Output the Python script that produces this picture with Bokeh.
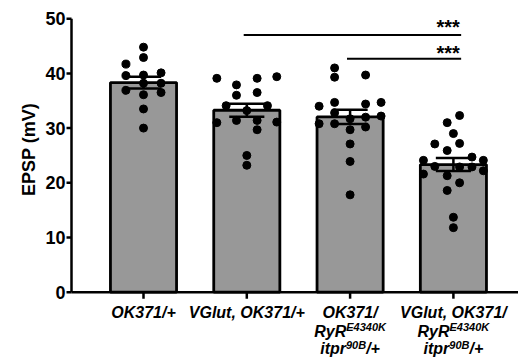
import math
import numpy as np
from bokeh.plotting import figure
from bokeh.models import Range1d
from bokeh.core.properties import value
from bokeh.embed import file_html
from bokeh.resources import INLINE

# ---- data ----
groups = ["OK371/+", "VGlut, OK371/+", "OK371/RyR/itpr", "VGlut, OK371/RyR/itpr"]

epsp_g1 = [44.8, 42.9, 41.7, 39.6, 39.7, 40.1, 36.9, 38.2, 38.2, 36.5, 36.1, 33.5, 30.0]
jit_g1 = [0, 0, -0.17, -0.17, 0, 0.17, -0.17, 0, 0.17, 0.17, 0, 0, 0]

epsp_g2 = [39.1, 37.9, 36.0, 39.1, 39.4, 36.5, 34.1, 34.1, 33.2, 31.4, 31.4, 29.7, 31.0, 31.1, 25.0, 23.2]
jit_g2 = [-0.29, -0.1, -0.1, 0.1, 0.29, 0.1, -0.2, 0.2, 0, -0.1, 0.1, 0.1, -0.29, 0.29, 0, 0]

epsp_g3 = [41.0, 39.3, 39.7, 34.0, 34.7, 34.4, 34.7, 32.8, 31.7, 32.0, 32.2, 30.8, 30.8, 29.7, 30.2, 27.1, 23.9, 17.8]
jit_g3 = [-0.15, -0.15, 0.15, -0.3, -0.15, 0.15, 0.3, -0.15, 0, 0.15, 0.3, -0.3, -0.15, 0, 0.15, 0, 0, 0]

epsp_g4 = [32.3, 31.0, 29.0, 27.1, 27.2, 25.9, 24.1, 24.7, 24.1, 23.0, 22.9, 22.9, 21.6, 22.2, 21.3, 20.0, 18.6, 13.7, 11.8]
jit_g4 = [0.06, -0.06, 0, -0.18, 0.06, -0.06, -0.29, 0.18, 0.29, -0.18, 0.06, 0.18, -0.29, 0.29, -0.06, 0.06, -0.06, 0, 0]

y_ticks = [0, 10, 20, 30, 40, 50]
y_label = "EPSP (mV)"

# x tick labels: lines of (text, superscript?) segments
x_labels = [
    [[("OK371/+", False)]],
    [[("VGlut, OK371/+", False)]],
    [[("OK371/", False)], [("RyR", False), ("E4340K", True)], [("itpr", False), ("90B", True), ("/+", False)]],
    [[("VGlut, OK371/", False)], [("RyR", False), ("E4340K", True)], [("itpr", False), ("90B", True), ("/+", False)]],
]

# significance comparisons (from group, to group, label)
comparisons = [(1, 3, "***"), (2, 3, "***")]
comparison_levels = [47.0, 42.7]

# ---- derived ----
all_vals = [epsp_g1, epsp_g2, epsp_g3, epsp_g4]
all_jit = [jit_g1, jit_g2, jit_g3, jit_g4]
means = [float(np.mean(v)) for v in all_vals]
sems = [float(np.std(v, ddof=1) / np.sqrt(len(v))) for v in all_vals]
idx = list(range(len(groups)))

FONT = "Liberation Sans"
GRAY = "#989898"

# ---- layout (screen geometry) ----
W_PX, H_PX = 518, 358
PXX = 103.3           # px per category
PXY = 5.47            # px per mV
CX0 = 143.0           # px of first category
CY0 = 291.7           # px of y = 0
X0, X1 = -CX0 / PXX, (W_PX - CX0) / PXX
Y1, Y0 = CY0 / PXY, -(H_PX - CY0) / PXY
AXIS_X = (71 - CX0) / PXX

p = figure(width=W_PX, height=H_PX, x_range=Range1d(X0, X1), y_range=Range1d(Y0, Y1),
           output_backend="svg", toolbar_location=None,
           min_border_left=0, min_border_right=0, min_border_top=0, min_border_bottom=0,
           x_axis_type=None, y_axis_type=None)
p.outline_line_color = None
p.grid.visible = False
p.background_fill_color = "white"
p.border_fill_color = "white"

# bars
p.vbar(x=idx, top=means, width=0.64, fill_color=GRAY, line_color="black", line_width=2.8)

# error bars
cap = 0.17
hi = [m + s for m, s in zip(means, sems)]
lo = [m - s for m, s in zip(means, sems)]
p.segment(x0=idx, y0=lo, x1=idx, y1=hi, line_color="black", line_width=2.5)
p.segment(x0=[i - cap for i in idx], y0=hi, x1=[i + cap for i in idx], y1=hi, line_color="black", line_width=2.5)
p.segment(x0=[i - cap for i in idx], y0=lo, x1=[i + cap for i in idx], y1=lo, line_color="black", line_width=2.5)

# points
px, py = [], []
for i, (vals, jit) in enumerate(zip(all_vals, all_jit)):
    for v, j in zip(vals, jit):
        px.append(i + j)
        py.append(v)
p.scatter(x=px, y=py, size=8, fill_color="black", line_color="black", marker="circle")

# significance lines and stars
for (g0, g1, txt), lvl, yo in zip(comparisons, comparison_levels, [-8, -5.5]):
    p.segment(x0=[g0 - 0.03], y0=[lvl], x1=[g1 + 0.075], y1=[lvl], line_color="black", line_width=2)
    p.text(x=[g1 + 0.062], y=[lvl], text=[txt], y_offset=yo, text_align="right",
           text_baseline="alphabetic", text_font=value(FONT), text_font_size=value("20px"),
           text_font_style=value("bold"), text_color="black")

# y axis
p.segment(x0=[AXIS_X], y0=[y_ticks[0]], x1=[AXIS_X], y1=[y_ticks[-1]], line_color="black", line_width=2.5)
p.segment(x0=[AXIS_X - 5 / PXX] * len(y_ticks), y0=y_ticks, x1=[AXIS_X] * len(y_ticks), y1=y_ticks,
          line_color="black", line_width=2.5)
p.text(x=[AXIS_X] * len(y_ticks), y=y_ticks, text=[str(t) for t in y_ticks], x_offset=-6,
       text_align="right", text_baseline="middle", text_font=value(FONT),
       text_font_size=value("18px"), text_font_style=value("bold"), text_color="black")
p.text(x=[AXIS_X], y=[(y_ticks[0] + y_ticks[-1]) / 2], text=[y_label], x_offset=-43, y_offset=-6,
       angle=math.pi / 2, text_align="center", text_baseline="alphabetic", text_font=value(FONT),
       text_font_size=value("18px"), text_font_style=value("bold"), text_color="black")

# x axis
p.segment(x0=[AXIS_X], y0=[0], x1=[X1], y1=[0], line_color="black", line_width=2.5)
p.segment(x0=idx, y0=[0] * len(idx), x1=idx, y1=[-6.5 / PXY] * len(idx), line_color="black", line_width=2.5)

# x labels with superscripts
W = {' ': 278, ',': 278, '/': 278, '+': 584, 'B': 722, 'E': 667, 'G': 778, 'K': 722, 'O': 778,
     'R': 722, 'V': 667, 'i': 278, 'l': 278, 'p': 611, 'r': 389, 't': 333, 'u': 611, 'y': 556}


def tw(s, fs):
    return sum(W.get(c, 556) for c in s) * fs / 1000.0


FS, SFS = 16, 11
line_offsets = [20.5, 39.0, 56.5]
for i, lines in enumerate(x_labels):
    for li, segs in enumerate(lines):
        widths = [tw(t, SFS if sup else FS) for t, sup in segs]
        xo = -sum(widths) / 2.0
        for (t, sup), w in zip(segs, widths):
            p.text(x=[i], y=[0], text=[t], x_offset=xo, y_offset=line_offsets[li] - (4 if sup else 0),
                   text_align="left", text_baseline="alphabetic", text_font=value(FONT),
                   text_font_size=value(f"{SFS if sup else FS}px"),
                   text_font_style=value("bold italic"), text_color="black")
            xo += w

open("out.html", "w").write(file_html(p, INLINE))
